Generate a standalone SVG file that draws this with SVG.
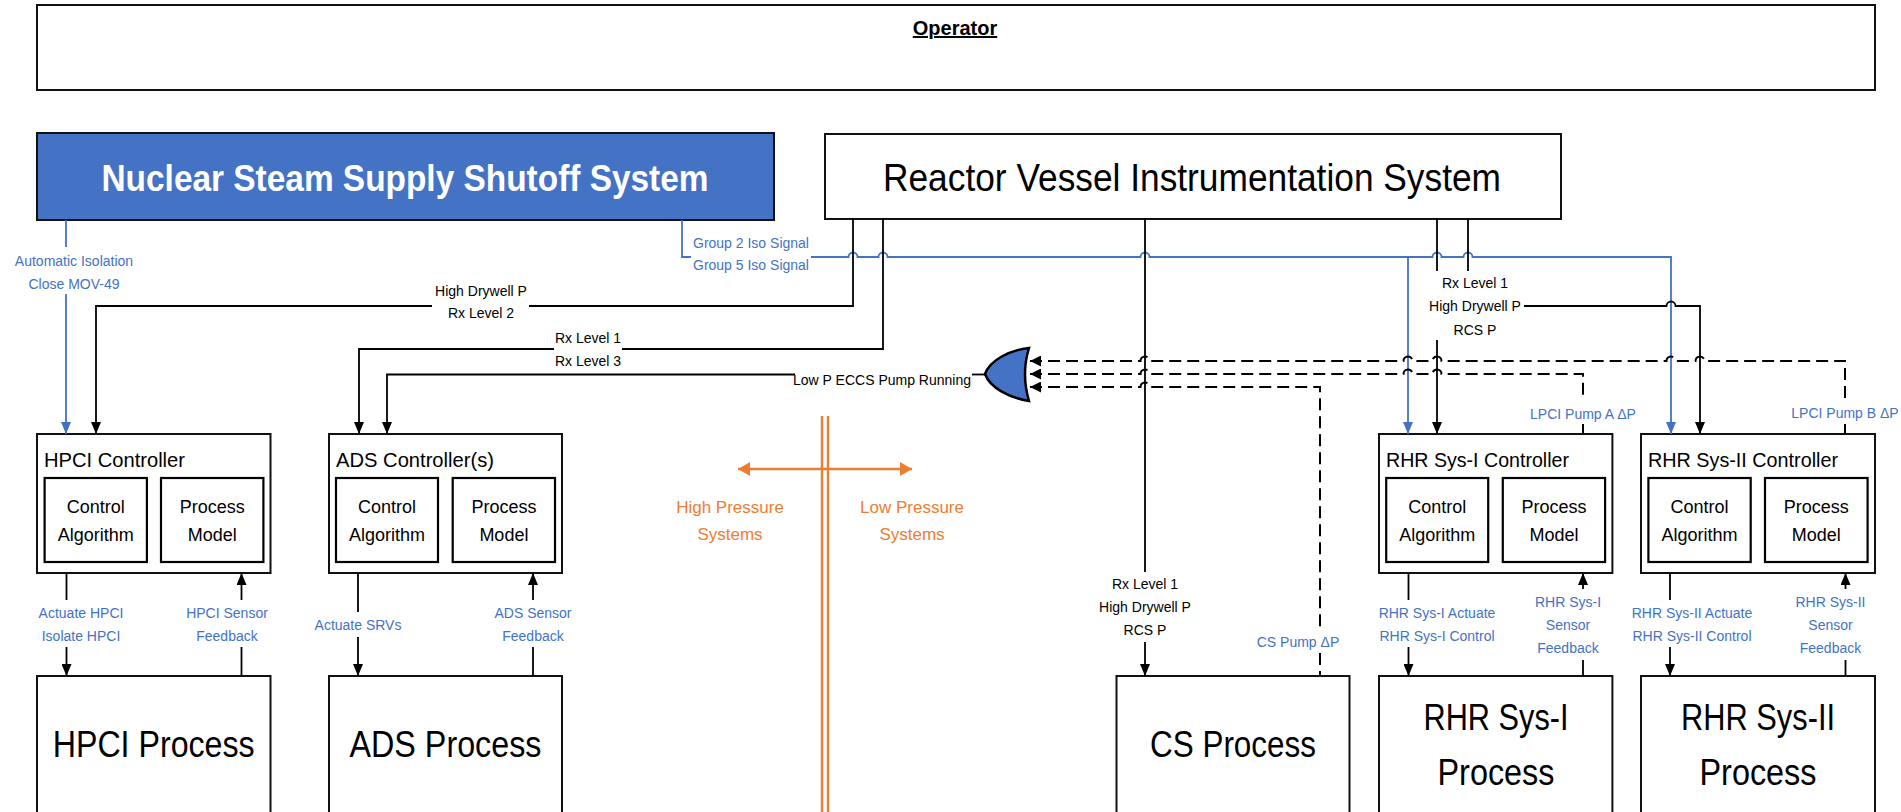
<svg xmlns="http://www.w3.org/2000/svg" width="1901" height="812" viewBox="0 0 1901 812">
<style>
text{font-family:"Liberation Sans",Arial,sans-serif}
.box{fill:#fff;stroke:#111;stroke-width:2}
.inner{fill:#fff;stroke:#000;stroke-width:2.2}
.ln{fill:none;stroke:#000;stroke-width:1.8}
.bl{fill:none;stroke:#4472C4;stroke-width:1.8}
.dsh{fill:none;stroke:#000;stroke-width:2;stroke-dasharray:12 6}
.or{fill:none;stroke:#ED7D31;stroke-width:2.4}
.lbl{font-size:14px;fill:#000;text-anchor:middle}
.blbl{font-size:14px;fill:#4472C4;text-anchor:middle}
.olbl{font-size:17px;fill:#ED7D31;text-anchor:middle}
.title{font-size:21px;fill:#000}
.sub{font-size:18px;fill:#000;text-anchor:middle}
.big{font-size:36px;fill:#000;text-anchor:middle}
.st{text-anchor:start}
.en{text-anchor:end}
</style>
<defs>
<marker id="ab" markerUnits="userSpaceOnUse" markerWidth="12" markerHeight="10" refX="12" refY="5" orient="auto"><path d="M0,0L12,5L0,10z" fill="#000"/></marker>
<marker id="abl" markerUnits="userSpaceOnUse" markerWidth="12" markerHeight="10" refX="12" refY="5" orient="auto"><path d="M0,0L12,5L0,10z" fill="#4472C4"/></marker>
<marker id="ao" markerUnits="userSpaceOnUse" markerWidth="12" markerHeight="14" refX="12" refY="7" orient="auto-start-reverse"><path d="M0,0L12,7L0,14z" fill="#ED7D31"/></marker>
<marker id="ag" markerUnits="userSpaceOnUse" markerWidth="11" markerHeight="11" refX="11" refY="5.5" orient="auto-start-reverse"><path d="M0,0L11,5.5L0,11z" fill="#000"/></marker>
</defs>

<g id="operator">
<rect class="box" x="37" y="5" width="1838" height="85"/>
<text x="955" y="35" font-size="20" font-weight="bold" text-anchor="middle" text-decoration="underline">Operator</text>
</g>

<g id="nsss">
<rect x="37" y="133" width="737" height="87" fill="#4472C4" stroke="#111" stroke-width="2"/>
<text x="405" y="191" font-size="36" font-weight="bold" fill="#fff" text-anchor="middle" textLength="607" lengthAdjust="spacingAndGlyphs">Nuclear Steam Supply Shutoff System</text>
</g>

<g id="rvis">
<rect class="box" x="825" y="134" width="736" height="85"/>
<text x="1192" y="191" font-size="38" text-anchor="middle" textLength="618" lengthAdjust="spacingAndGlyphs">Reactor Vessel Instrumentation System</text>
</g>

<g id="hpci-controller">
<rect class="box" x="37" y="434" width="233.5" height="139"/>
<text class="title" x="44" y="467" textLength="141" lengthAdjust="spacingAndGlyphs">HPCI Controller</text>
<rect class="inner" x="44.6" y="478" width="102.3" height="84"/>
<rect class="inner" x="161" y="478" width="102.4" height="84"/>
<text class="sub" x="95.8" y="513">Control</text><text class="sub" x="95.8" y="541">Algorithm</text>
<text class="sub" x="212.2" y="513">Process</text><text class="sub" x="212.2" y="541">Model</text>
</g>

<g id="ads-controller">
<rect class="box" x="329" y="434" width="233" height="139"/>
<text class="title" x="336" y="467" textLength="158" lengthAdjust="spacingAndGlyphs">ADS Controller(s)</text>
<rect class="inner" x="336" y="478" width="102" height="84"/>
<rect class="inner" x="452.7" y="478" width="102.3" height="84"/>
<text class="sub" x="387" y="513">Control</text><text class="sub" x="387" y="541">Algorithm</text>
<text class="sub" x="503.9" y="513">Process</text><text class="sub" x="503.9" y="541">Model</text>
</g>

<g id="rhr1-controller">
<rect class="box" x="1379" y="434" width="233.4" height="139"/>
<text class="title" x="1386" y="467" textLength="183" lengthAdjust="spacingAndGlyphs">RHR Sys-I Controller</text>
<rect class="inner" x="1386.2" y="478" width="102" height="84"/>
<rect class="inner" x="1502.8" y="478" width="102.3" height="84"/>
<text class="sub" x="1437.2" y="513">Control</text><text class="sub" x="1437.2" y="541">Algorithm</text>
<text class="sub" x="1554" y="513">Process</text><text class="sub" x="1554" y="541">Model</text>
</g>

<g id="rhr2-controller">
<rect class="box" x="1641" y="434" width="234" height="139"/>
<text class="title" x="1648" y="467" textLength="190" lengthAdjust="spacingAndGlyphs">RHR Sys-II Controller</text>
<rect class="inner" x="1648.4" y="478" width="102.3" height="84"/>
<rect class="inner" x="1765" y="478" width="102.6" height="84"/>
<text class="sub" x="1699.5" y="513">Control</text><text class="sub" x="1699.5" y="541">Algorithm</text>
<text class="sub" x="1816.3" y="513">Process</text><text class="sub" x="1816.3" y="541">Model</text>
</g>

<g id="hpci-process">
<rect class="box" x="37" y="676" width="233.5" height="160"/>
<text class="big" x="153.7" y="757" textLength="202" lengthAdjust="spacingAndGlyphs">HPCI Process</text>
</g>
<g id="ads-process">
<rect class="box" x="329" y="676" width="233" height="160"/>
<text class="big" x="445.5" y="757" textLength="192" lengthAdjust="spacingAndGlyphs">ADS Process</text>
</g>
<g id="cs-process">
<rect class="box" x="1116.5" y="676" width="233" height="160"/>
<text class="big" x="1233" y="757" textLength="166" lengthAdjust="spacingAndGlyphs">CS Process</text>
</g>
<g id="rhr1-process">
<rect class="box" x="1379" y="676" width="233.4" height="160"/>
<text class="big" x="1496" y="730" textLength="145" lengthAdjust="spacingAndGlyphs">RHR Sys-I</text>
<text class="big" x="1496" y="785" textLength="117" lengthAdjust="spacingAndGlyphs">Process</text>
</g>
<g id="rhr2-process">
<rect class="box" x="1641" y="676" width="234" height="160"/>
<text class="big" x="1758" y="730" textLength="154" lengthAdjust="spacingAndGlyphs">RHR Sys-II</text>
<text class="big" x="1758" y="785" textLength="117" lengthAdjust="spacingAndGlyphs">Process</text>
</g>

<g id="or-gate">
<path d="M1029,348 C1010,350 990,360 985,374 C990,388 1010,398 1029,401 Q1021,374 1029,348 Z" fill="#4472C4" stroke="#000" stroke-width="2.5"/>
</g>

<g id="divider">
<line class="or" x1="822" y1="416" x2="822" y2="812"/>
<line class="or" x1="828" y1="416" x2="828" y2="812"/>
<line class="or" x1="738" y1="469" x2="912" y2="469" marker-start="url(#ao)" marker-end="url(#ao)"/>
<text class="olbl" x="730" y="513">High Pressure</text>
<text class="olbl" x="730" y="540">Systems</text>
<text class="olbl" x="912" y="513">Low Pressure</text>
<text class="olbl" x="912" y="540">Systems</text>
</g>

<g id="connectors">
<path class="bl" d="M66,220 V247"/>
<path class="bl" d="M66,294 V434" marker-end="url(#abl)"/>
<text class="blbl" x="74" y="266">Automatic Isolation</text>
<text class="blbl" x="74" y="289">Close MOV-49</text>
<path class="bl" d="M682,220 V257 H691"/>
<path class="bl" d="M811,257 H848.5 A4.5,4.5 0 0 1 857.5,257 H878.5 A4.5,4.5 0 0 1 887.5,257 H1140.5 A4.5,4.5 0 0 1 1149.5,257 H1432.5 A4.5,4.5 0 0 1 1441.5,257 H1463.5 A4.5,4.5 0 0 1 1472.5,257 H1671 V434" marker-end="url(#abl)"/>
<path class="bl" d="M1408,257 V434" marker-end="url(#abl)"/>
<text class="blbl st" x="693" y="248">Group 2 Iso Signal</text>
<text class="blbl st" x="693" y="270">Group 5 Iso Signal</text>
<path class="ln" d="M853,219 V306 H529"/>
<path class="ln" d="M432,306 H96 V434" marker-end="url(#ab)"/>
<text class="lbl" x="481" y="296">High Drywell P</text>
<text class="lbl" x="481" y="318">Rx Level 2</text>
<path class="ln" d="M883,219 V349 H622"/>
<path class="ln" d="M554,349 H359 V434" marker-end="url(#ab)"/>
<text class="lbl" x="588" y="343">Rx Level 1</text>
<text class="lbl" x="588" y="366">Rx Level 3</text>
<path class="ln" d="M985,374.5 H972"/>
<path class="ln" d="M795,374.5 H387 V434" marker-end="url(#ab)"/>
<text class="lbl en" x="971" y="385">Low P ECCS Pump Running</text>
<path class="ln" d="M1145,219 V572"/>
<path class="ln" d="M1145,642 V676" marker-end="url(#ab)"/>
<text class="lbl" x="1145" y="589">Rx Level 1</text>
<text class="lbl" x="1145" y="612">High Drywell P</text>
<text class="lbl" x="1145" y="635">RCS P</text>
<path class="ln" d="M1437,219 V271 M1468,219 V271"/>
<path class="ln" d="M1437,340 V434" marker-end="url(#ab)"/>
<path class="ln" d="M1524,306 H1666.5 A4.5,4.5 0 0 1 1675.5,306 H1700 V434" marker-end="url(#ab)"/>
<text class="lbl" x="1475" y="288">Rx Level 1</text>
<text class="lbl" x="1475" y="311">High Drywell P</text>
<text class="lbl" x="1475" y="335">RCS P</text>
<path class="dsh" d="M1030,361 H1140.5 A4.5,4.5 0 0 1 1149.5,361 H1403.5 A4.5,4.5 0 0 1 1412.5,361 H1432.5 A4.5,4.5 0 0 1 1441.5,361 H1666.5 A4.5,4.5 0 0 1 1675.5,361 H1695.5 A4.5,4.5 0 0 1 1704.5,361 H1845 V400" marker-start="url(#ag)"/>
<path class="dsh" d="M1845,424 V434"/>
<text class="blbl" x="1845" y="418">LPCI Pump B ΔP</text>
<path class="dsh" d="M1030,374 H1140.5 A4.5,4.5 0 0 1 1149.5,374 H1403.5 A4.5,4.5 0 0 1 1412.5,374 H1432.5 A4.5,4.5 0 0 1 1441.5,374 H1583 V400" marker-start="url(#ag)"/>
<path class="dsh" d="M1583,424 V434"/>
<text class="blbl" x="1583" y="419">LPCI Pump A ΔP</text>
<path class="dsh" d="M1030,387 H1140.5 A4.5,4.5 0 0 1 1149.5,387 H1320 V628" marker-start="url(#ag)"/>
<path class="dsh" d="M1320,653 V676"/>
<text class="blbl" x="1298" y="647">CS Pump ΔP</text>
<path class="ln" d="M66.5,573 V600 M66.5,647 V676" marker-end="url(#ab)"/>
<text class="blbl" x="81" y="618">Actuate HPCI</text>
<text class="blbl" x="81" y="641">Isolate HPCI</text>
<path class="ln" d="M241.5,676 V647 M241.5,600 V573" marker-end="url(#ab)"/>
<text class="blbl" x="227" y="618">HPCI Sensor</text>
<text class="blbl" x="227" y="641">Feedback</text>
<path class="ln" d="M358,573 V612 M358,637 V676" marker-end="url(#ab)"/>
<text class="blbl" x="358" y="630">Actuate SRVs</text>
<path class="ln" d="M533,676 V647 M533,600 V573" marker-end="url(#ab)"/>
<text class="blbl" x="533" y="618">ADS Sensor</text>
<text class="blbl" x="533" y="641">Feedback</text>
<path class="ln" d="M1408.5,573 V600 M1408.5,647 V676" marker-end="url(#ab)"/>
<text class="blbl" x="1437" y="618">RHR Sys-I Actuate</text>
<text class="blbl" x="1437" y="641">RHR Sys-I Control</text>
<path class="ln" d="M1583,676 V660 M1583,589 V573" marker-end="url(#ab)"/>
<text class="blbl" x="1568" y="607">RHR Sys-I</text>
<text class="blbl" x="1568" y="630">Sensor</text>
<text class="blbl" x="1568" y="653">Feedback</text>
<path class="ln" d="M1670,573 V600 M1670,647 V676" marker-end="url(#ab)"/>
<text class="blbl" x="1692" y="618">RHR Sys-II Actuate</text>
<text class="blbl" x="1692" y="641">RHR Sys-II Control</text>
<path class="ln" d="M1845.5,676 V660 M1845.5,589 V573" marker-end="url(#ab)"/>
<text class="blbl" x="1830.5" y="607">RHR Sys-II</text>
<text class="blbl" x="1830.5" y="630">Sensor</text>
<text class="blbl" x="1830.5" y="653">Feedback</text>
</g>
</svg>
